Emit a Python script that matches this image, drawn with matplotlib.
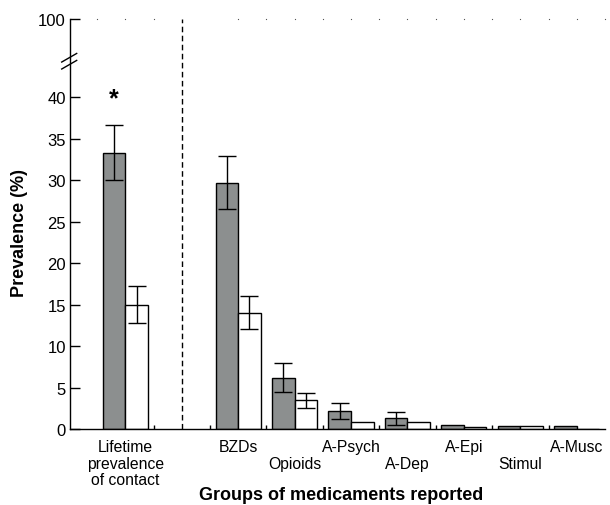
import matplotlib
matplotlib.use("Agg")
import matplotlib.pyplot as plt
import numpy as np

plt.rcParams['font.family'] = ['Liberation Sans', 'DejaVu Sans']

# data
categories = ['Lifetime\nprevalence\nof contact', 'BZDs', 'Opioids', 'A-Psych',
              'A-Dep', 'A-Epi', 'Stimul', 'A-Musc']
positions = [0, 2, 3, 4, 5, 6, 7, 8]
grey_vals = [33.3, 29.7, 6.2, 2.2, 1.3, 0.5, 0.4, 0.4]
grey_err = [3.3, 3.2, 1.8, 0.95, 0.8, np.nan, np.nan, np.nan]
white_vals = [15.0, 14.0, 3.45, 0.8, 0.9, 0.3, 0.35, 0.05]
white_err = [2.2, 2.0, 0.9, np.nan, np.nan, np.nan, np.nan, np.nan]

# broken y axis: linear up to BREAK, compressed above
BREAK = 44.0
K = (49.4 - BREAK) / (100 - BREAK)

def fwd(y):
    y = np.asarray(y, dtype=float)
    return np.where(y <= BREAK, y, BREAK + (y - BREAK) * K)

def inv(y):
    y = np.asarray(y, dtype=float)
    return np.where(y <= BREAK, y, BREAK + (y - BREAK) / K)

fig = plt.figure(figsize=(6.1, 5.06), dpi=100)
ax = fig.add_axes([70 / 610, 1 - 430 / 506, 535 / 610, 410 / 506])
ax.set_yscale('function', functions=(fwd, inv))

w = 0.4
x = np.array(positions, dtype=float)
ax.bar(x - w / 2, grey_vals, width=w, color='#8c8f8f', edgecolor='black', linewidth=1, zorder=2)
ax.bar(x + w / 2, white_vals, width=w, color='white', edgecolor='black', linewidth=1, zorder=2)
ax.errorbar(x - w / 2, grey_vals, yerr=grey_err, fmt='none', ecolor='black',
            elinewidth=1, capsize=6.8, capthick=1, zorder=3)
ax.errorbar(x + w / 2, white_vals, yerr=white_err, fmt='none', ecolor='black',
            elinewidth=1, capsize=6.8, capthick=1, zorder=3)

# significance star
ax.text(-w / 2, 39.9, '*', ha='center', va='center', fontsize=18, fontweight='bold')

# separator and dotted top line
ax.axvline(1, color='black', linestyle=(0, (4, 2.5)), linewidth=1)
dots = [d for d in np.arange(-0.5, 8.51, 0.5) if d not in (1.0, 1.5)]
ax.plot(dots, [100] * len(dots), linestyle='none', marker='s', markersize=0.8,
        color='#555555', markeredgewidth=0, clip_on=False)

ax.set_xlim(-0.98, 8.5)
ax.set_ylim(0, 100)

ax.spines['top'].set_visible(False)
ax.spines['right'].set_visible(False)
ax.spines['left'].set_linewidth(1)
ax.spines['bottom'].set_linewidth(1)

ax.set_yticks([0, 5, 10, 15, 20, 25, 30, 35, 40, 100])
ax.set_yticklabels(['0', '5', '10', '15', '20', '25', '30', '35', '40', '100'])
ax.tick_params(axis='y', direction='in', length=7, width=1, labelsize=12, pad=3)

labels = [c if i in (0, 1, 3, 5, 7) else '\n' + c for i, c in enumerate(categories)]
ax.set_xticks(positions)
ax.set_xticklabels(labels, fontsize=11.3, linespacing=1.15)
ax.tick_params(axis='x', which='major', length=0, pad=7)
ax.set_xticks([0.5, 1.5, 2.5, 3.5, 4.5, 5.5, 6.5, 7.5], minor=True)
ax.tick_params(axis='x', which='minor', direction='in', length=3, width=1)

# break marks on y axis
for y0 in (0.878, 0.895):
    ax.plot([-0.0155, 0.0125], [y0, y0 + 0.021], color='black', linewidth=1,
            transform=ax.transAxes, clip_on=False)

ax.set_ylabel('Prevalence (%)', fontsize=13, fontweight='bold')
ax.yaxis.set_label_coords(-0.078, 0.48)
ax.set_xlabel('Groups of medicaments reported', fontsize=13, fontweight='bold')
ax.xaxis.set_label_coords(0.507, -0.138)

fig.savefig('out.png', dpi=100)
